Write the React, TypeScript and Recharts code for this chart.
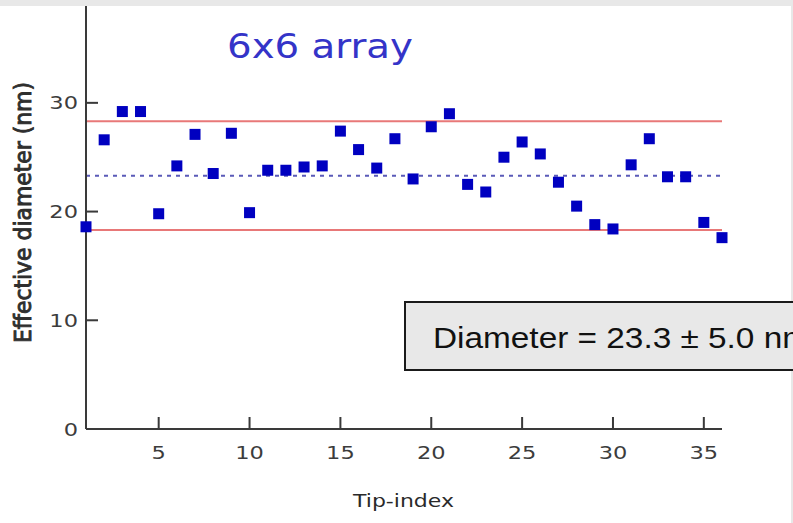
import React from "react";
import {
  ComposedChart,
  Scatter,
  XAxis,
  YAxis,
  ReferenceLine,
} from "recharts";

// tip index (x) and measured effective diameter in nm (y)
const tipIndex = [
  1, 2, 3, 4, 5, 6, 7, 8, 9, 10, 11, 12, 13, 14, 15, 16, 17, 18,
  19, 20, 21, 22, 23, 24, 25, 26, 27, 28, 29, 30, 31, 32, 33, 34, 35, 36,
];
const diameters = [
  18.6, 26.6, 29.2, 29.2, 19.8, 24.2, 27.1, 23.5, 27.2, 19.9, 23.8, 23.8,
  24.1, 24.2, 27.4, 25.7, 24.0, 26.7, 23.0, 27.8, 29.0, 22.5, 21.8, 25.0,
  26.4, 25.3, 22.7, 20.5, 18.8, 18.4, 24.3, 26.7, 23.2, 23.2, 19.0, 17.6,
];

const xTicks = [5, 10, 15, 20, 25, 30, 35];
const yTicks = [0, 10, 20, 30];

const meanDiameter = 23.3;
const upperBound = 28.3;
const lowerBound = 18.3;

const points = tipIndex.map((x, i) => ({ x, y: diameters[i] }));

const axisColor = "#3a3a3a";
const labelColor = "#3c3c3c";

// ticks point inwards, so the tick mark is drawn with the label
const renderXTick = (props: any) => {
  const { x, y, payload } = props;
  const px = Number(x);
  const py = Number(y);
  return (
    <g key={`xt-${payload.value}`}>
      <rect x={px - 1} y={py - 12} width={2} height={12} fill={axisColor} />
      <text
        transform={`translate(${px},${py + 30}) scale(1.25,1)`}
        textAnchor="middle"
        fontSize={18}
        fontFamily="DejaVu Sans"
        fill={labelColor}
      >
        {payload.value}
      </text>
    </g>
  );
};

const renderYTick = (props: any) => {
  const { x, y, payload } = props;
  const px = Number(x);
  const py = Number(y);
  return (
    <g key={`yt-${payload.value}`}>
      <rect x={px} y={py - 1} width={12} height={2} fill={axisColor} />
      <text
        transform={`translate(${px - 8},${py + 6.5}) scale(1.25,1)`}
        textAnchor="end"
        fontSize={18}
        fontFamily="DejaVu Sans"
        fill={labelColor}
      >
        {payload.value}
      </text>
    </g>
  );
};

const Square = (props: any) => {
  const { cx, cy } = props;
  return <rect x={cx - 5.5} y={cy - 5.5} width={11} height={11} fill="#0000c0" />;
};

export default function App() {
  return (
    <div style={{ position: "relative", width: 793, height: 523, background: "#fff" }}>
      <style>{"body{margin:0}"}</style>
      <ComposedChart
        width={793}
        height={523}
        margin={{ top: 5, right: 71, bottom: 34, left: 0 }}
      >
        <XAxis
          type="number"
          dataKey="x"
          domain={[1, 36]}
          ticks={xTicks}
          height={60}
          tickSize={0}
          tickMargin={0}
          tickLine={false}
          tick={renderXTick}
          axisLine={{ stroke: axisColor, strokeWidth: 2 }}
        />
        <YAxis
          type="number"
          dataKey="y"
          domain={[0, 39]}
          ticks={yTicks}
          width={86}
          tickSize={0}
          tickMargin={0}
          tickLine={false}
          tick={renderYTick}
          axisLine={{ stroke: axisColor, strokeWidth: 2 }}
        />
        <ReferenceLine y={upperBound} stroke="#e87878" strokeWidth={2} />
        <ReferenceLine y={lowerBound} stroke="#e87878" strokeWidth={2} />
        <ReferenceLine
          y={meanDiameter}
          stroke="#5a5ab8"
          strokeWidth={2}
          strokeDasharray="4 5"
        />
        <Scatter data={points} shape={<Square />} isAnimationActive={false} />
      </ComposedChart>
      <svg
        width={793}
        height={523}
        style={{ position: "absolute", left: 0, top: 0, pointerEvents: "none" }}
      >
        <rect x={0} y={0} width={793} height={6} fill="#e8e8e8" />
        <rect x={791} y={0} width={2} height={523} fill="#e8e8e8" />
        <text
          x={227}
          y={58}
          fontSize={34}
          fontFamily="DejaVu Sans"
          fill="#3434c8"
          textLength={186}
          lengthAdjust="spacingAndGlyphs"
        >
          6x6 array
        </text>
        <text
          transform="translate(31,212.5) rotate(-90) scale(1,1.3)"
          textAnchor="middle"
          fontSize={18}
          fontFamily="DejaVu Sans"
          fill="#2e2e2e"
          stroke="#2e2e2e"
          strokeWidth={0.7}
          textLength={261}
          lengthAdjust="spacingAndGlyphs"
        >
          Effective diameter (nm)
        </text>
        <text
          x={353}
          y={507}
          fontSize={18}
          fontFamily="DejaVu Sans"
          fill="#2a2a2a"
          textLength={101}
          lengthAdjust="spacingAndGlyphs"
        >
          Tip-index
        </text>
        <rect x={405} y={302} width={420} height={68} fill="#e8e8e8" stroke="#1a1a1a" strokeWidth={2} />
        <text
          x={433}
          y={348}
          fontSize={29}
          fontFamily="Liberation Sans"
          fill="#111"
          textLength={377}
          lengthAdjust="spacingAndGlyphs"
        >
          Diameter = 23.3 ± 5.0 nm
        </text>
      </svg>
    </div>
  );
}
